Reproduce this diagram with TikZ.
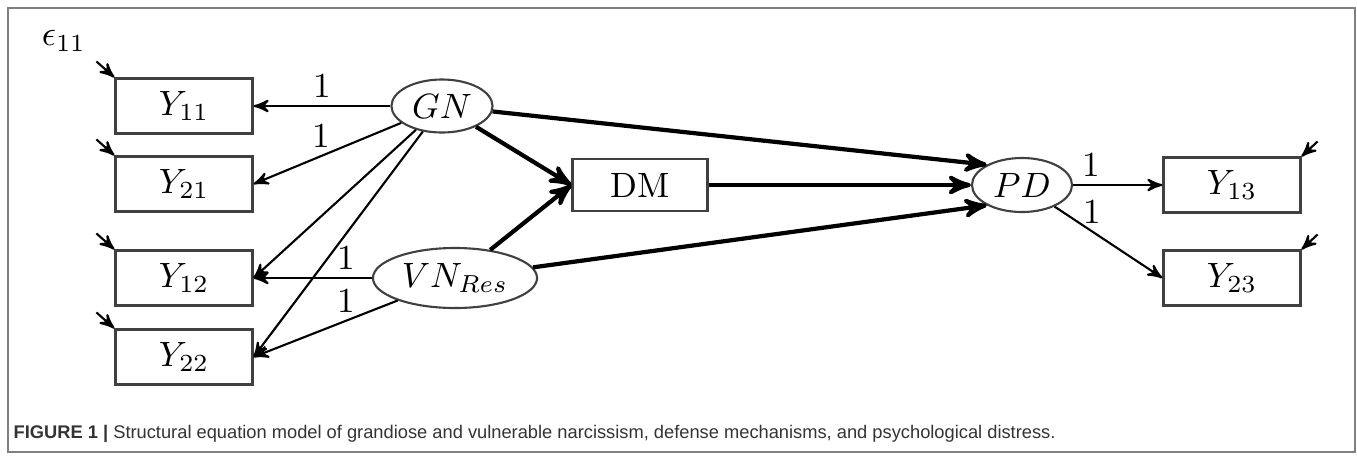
\documentclass[tikz,border=0pt]{standalone}
\usepackage{fontspec}
\newfontfamily\capfont{Liberation Sans}
\usetikzlibrary{arrows,shapes.geometric}

\begin{document}
\begin{tikzpicture}[x=0.01cm,y=-0.01cm,>=stealth',
		obs/.style={draw=black!75,line width=0.6pt,minimum width=1.37cm,minimum height=0.55cm,inner sep=0pt},
		lat/.style={draw=black!75,line width=0.6pt,ellipse,inner sep=0pt},
		lbl/.style={above,inner sep=2pt}]
	\useasboundingbox (0,0) rectangle (1357,457);
	\draw[black!50,line width=0.7pt] (8,8) rectangle (1355,452);

	\node (eps) at (64,41) {$\epsilon_{11}$};
	\node[obs] (Y11) at (184,106) {$Y_{11}$};
	\node[obs] (Y21) at (184,184) {$Y_{21}$};
	\node[obs] (Y12) at (184,278) {$Y_{12}$};
	\node[obs] (Y22) at (184,357) {$Y_{22}$};
	\node[lat,minimum width=1.01cm,minimum height=0.53cm] (GN) at (442,106) {$GN$};
	\node[lat,minimum width=1.64cm,minimum height=0.6cm] (VN) at (455,278) {$VN_{Res}$};
	\node[obs,minimum width=1.35cm,minimum height=0.52cm] (DM) at (640,185) {DM};
	\node[lat,minimum width=1cm,minimum height=0.54cm] (PD) at (1022,185) {$PD$};
	\node[obs] (Y13) at (1232,185) {$Y_{13}$};
	\node[obs] (Y23) at (1232,278) {$Y_{23}$};

	% error terms
	\foreach \n in {Y11,Y21,Y12,Y22}{
		\path (\n.north west) ++(-18,-16) coordinate (e\n);
		\draw[->,line width=0.6pt] (e\n) -- (\n.north west);
	}
	\foreach \n in {Y13,Y23}{
		\path (\n.north east) ++(16,-15) coordinate (e\n);
		\draw[->,line width=0.6pt] (e\n) -- (\n.north east);
	}

	% loadings
	\path[->,line width=0.6pt]
	(GN) edge node[lbl]{1} (Y11)
	edge node[lbl,pos=0.54]{1} (Y21.east)
	edge (Y12.east)
	edge (Y22.east)
	(VN) edge node[lbl,pos=0.22]{1} (Y12.east)
	edge node[lbl,pos=0.36]{1} (Y22.east)
	(PD) edge node[lbl,pos=0.2]{1} (Y13)
	edge node[lbl,pos=0.35]{1} (Y23.west);

	% structural paths
	\path[->,line width=1.2pt]
	(GN) edge (DM.west)
	edge (PD.150)
	(VN) edge (DM.west)
	edge (PD.210)
	(DM) edge (PD);

	\node[anchor=base west,inner sep=0pt,text=black!80] (cap) at (13,438)
		{\capfont\fontsize{5.2}{6}\selectfont\textbf{FIGURE 1} \textbf{|} Structural equation model of grandiose and vulnerable narcissism, defense mechanisms, and psychological distress.};
\end{tikzpicture}
\end{document}
